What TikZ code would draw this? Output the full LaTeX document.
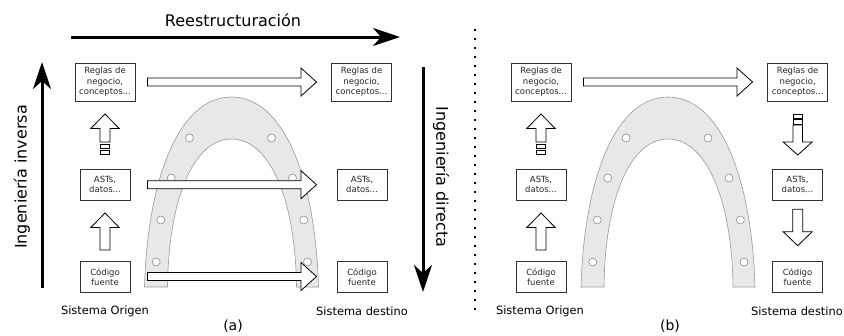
\documentclass[tikz,border=0pt]{standalone}
\usepackage{fontspec}
\setmainfont{DejaVu Sans}
\usetikzlibrary{arrows.meta,calc}
\tikzset{
  box/.style={draw=black!80, line width=0.8pt, fill=white, align=center,
    font=\fontsize{8.5}{10.5}\selectfont, text=black!85, inner sep=0pt},
  bigbox/.style={box, minimum width=60pt, minimum height=38pt},
  smallbox/.style={box, minimum width=50pt, minimum height=31pt},
  thickarrow/.style={line width=3pt, -{Stealth[length=27pt,width=18pt,inset=8pt]}},
  hollow/.style={draw=black, fill=white, line width=0.8pt, line join=miter},
  caption/.style={font=\fontsize{11.4}{13}\selectfont},
  subcap/.style={font=\fontsize{14}{16}\selectfont},
  title/.style={font=\fontsize{16}{19}\selectfont},
  archfill/.style={fill=black!9, draw=black!40, line width=0.6pt},
  hole/.style={fill=white, draw=black!45, line width=0.6pt},
  dotline/.style={line width=1.7pt, dash pattern=on 1.7pt off 7.3pt},
  pics/rarrow/.style={code={
    \draw[hollow] (0,-4) -- (153.5,-4) -- (153.5,-14) -- (169,0) -- (153.5,14) -- (153.5,4) -- (0,4) -- cycle;}},
  pics/uparrow/.style={code={
    \draw[hollow] (0,0) -- (14.2,14.5) -- (5,14.5) -- (5,37) -- (-5,37) -- (-5,14.5) -- (-14.2,14.5) -- cycle;}},
  pics/updash/.style={code={
    \draw[hollow] (0,0) -- (14.2,14.5) -- (5,14.5) -- (5,28) -- (-5,28) -- (-5,14.5) -- (-14.2,14.5) -- cycle;
    \draw[hollow] (-4.6,30.3) rectangle (4.6,34.3);
    \draw[hollow] (-4.6,36) rectangle (4.6,40.3);}},
  pics/dnarrow/.style={code={
    \draw[hollow] (0,0) -- (14.5,-14) -- (5,-14) -- (5,-36.5) -- (-5,-36.5) -- (-5,-14) -- (-14.5,-14) -- cycle;}},
  pics/dndash/.style={code={
    \draw[hollow] (0,0) -- (14.5,-13) -- (4.7,-13) -- (4.7,-30) -- (-4.7,-30) -- (-4.7,-13) -- (-14.5,-13) -- cycle;
    \draw[hollow] (-4.8,-30.7) rectangle (4.8,-35.7);
    \draw[hollow] (-4.8,-36.7) rectangle (4.8,-41);}},
  pics/arch/.style={code={
    \draw[archfill] (-87,0) .. controls (-84,-107) and (-53,-190) .. (0,-190)
      .. controls (53,-190) and (84,-107) .. (87,0) -- (65,0)
      .. controls (64,-88) and (38,-148) .. (0,-148)
      .. controls (-38,-148) and (-63,-88) .. (-64,0) -- cycle;
    \foreach \hx/\hy in {-42/-149, 40/-149, -60.3/-109, 61/-109, -70.7/-67, 72.3/-67, -75.3/-25, 76/-25}
      \draw[hole] (\hx,\hy) circle[radius=4pt];}}
}
\begin{document}
\begin{tikzpicture}[x=1pt,y=-1pt]
\useasboundingbox (0,0) rectangle (844,335);
% global arrows and titles
\node[title] (tr) at (233,20) {Reestructuración};
\coordinate (r0) at (71,37); \coordinate (r1) at (400,37);
\draw[thickarrow] (r0) -- (r1);
\coordinate (i0) at (42,288); \coordinate (i1) at (42,62);
\draw[thickarrow] (i0) -- (i1);
\node[title, rotate=90] (ti) at (22,177) {Ingeniería inversa};
\coordinate (d0) at (423,67); \coordinate (d1) at (423,292);
\draw[thickarrow] (d0) -- (d1);
\node[title, rotate=-90] (td) at (441,177) {Ingeniería directa};
\coordinate (s0) at (475,29); \coordinate (s1) at (475,313);
\draw[dotline] (s0) -- (s1);

% panel (a)
\pic at (231.5,287) {arch};
\node[bigbox] (aL1) at (105,82) {Reglas de\\negocio,\\conceptos...};
\node[smallbox] (aL2) at (105,184.5) {ASTs,\\datos...};
\node[smallbox] (aL3) at (105,277) {Código\\fuente};
\node[bigbox] (aR1) at (361.5,82) {Reglas de\\negocio,\\conceptos...};
\node[smallbox] (aR2) at (362,184.5) {ASTs,\\datos...};
\node[smallbox] (aR3) at (362,277) {Código\\fuente};
\pic at (105,213) {uparrow};
\pic at (105,114) {updash};
\pic at (147.5,82) {rarrow};
\pic at (147.5,184.7) {rarrow};
\pic at (147.5,276.5) {rarrow};
\node[caption] (aso) at (105,311) {Sistema Origen};
\node[caption] (asd) at (362,311) {Sistema destino};
\node[subcap] (acap) at (233,326.5) {(a)};

% panel (b)
\pic at (668,287) {arch};
\node[bigbox] (bL1) at (541,82) {Reglas de\\negocio,\\conceptos...};
\node[smallbox] (bL2) at (541,184.5) {ASTs,\\datos...};
\node[smallbox] (bL3) at (541,277) {Código\\fuente};
\node[bigbox] (bR1) at (797.7,82) {Reglas de\\negocio,\\conceptos...};
\node[smallbox] (bR2) at (797.5,184.5) {ASTs,\\datos...};
\node[smallbox] (bR3) at (797.5,277) {Código\\fuente};
\pic at (541,213) {uparrow};
\pic at (541,114) {updash};
\pic at (583.5,82) {rarrow};
\pic at (797.7,155) {dndash};
\pic at (797.7,245.7) {dnarrow};
\node[caption] (bso) at (540,311) {Sistema Origen};
\node[caption] (bsd) at (797,311) {Sistema destino};
\node[subcap] (bcap) at (670,326.5) {(b)};
\end{tikzpicture}
\end{document}
